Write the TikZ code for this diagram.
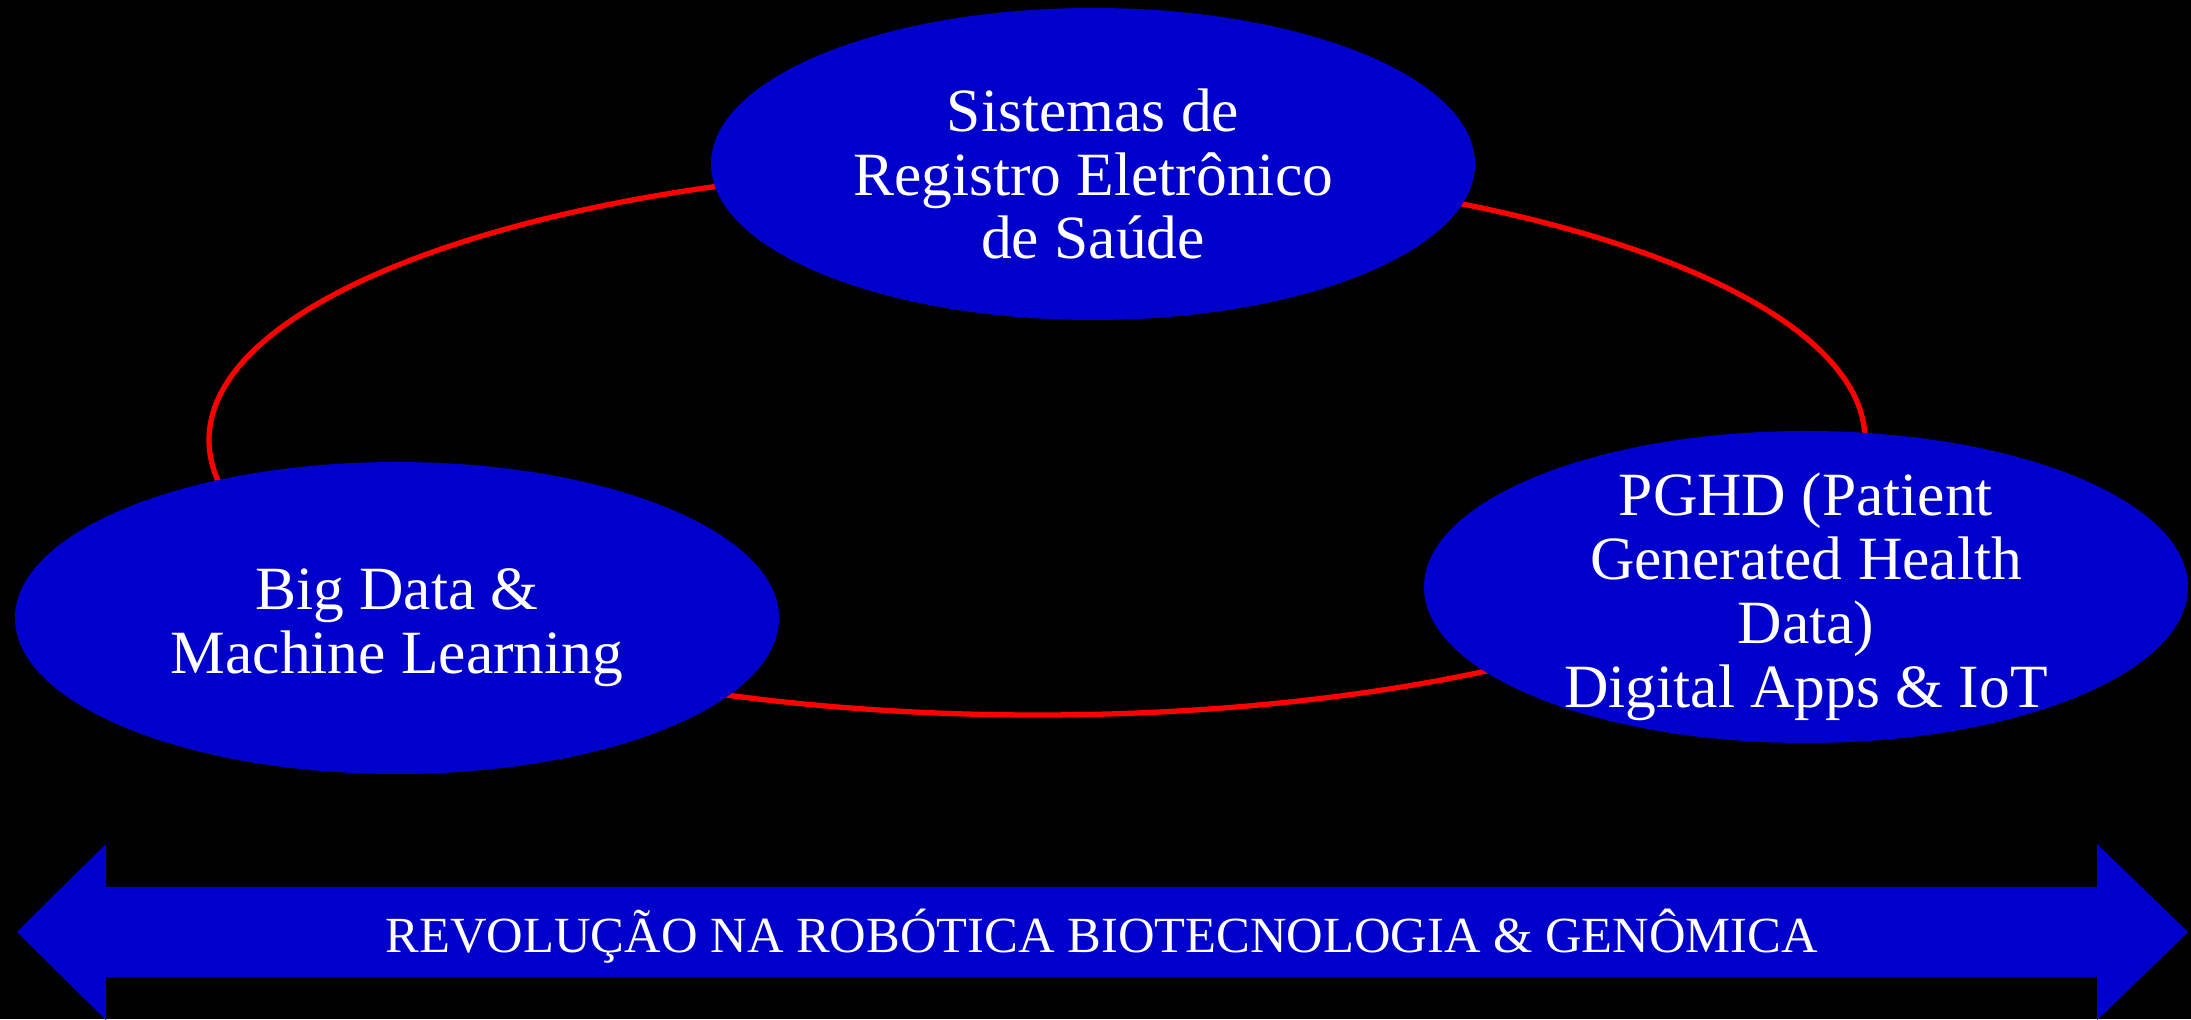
\documentclass[tikz,border=0pt]{standalone}
\usepackage{fontspec}
\setmainfont{Liberation Serif}
\usetikzlibrary{shapes}
\definecolor{blobblue}{RGB}{0,0,204}

\begin{document}
\begin{tikzpicture}
  [every node/.style={text=white,align=center},
   blob/.style={ellipse,fill=blobblue,minimum width=7.64cm,minimum height=3.12cm,inner sep=0pt},
   lbl/.style={font=\fontsize{17.5}{18.2}\selectfont,yshift=-0.1cm},
   ring/.style={ellipse,draw=red,line width=1.5pt,minimum width=16.56cm,minimum height=5.5cm,inner sep=0pt}]
  \fill[black] (0,0) rectangle (21.91,10.19);
  \useasboundingbox (0,0) rectangle (21.91,10.19);

  \node[ring] (loop) at (10.37,5.79) {};
  \node[blob] (ehr) at (10.93,8.55) {};
  \node[blob] (big) at (3.97,4.01) {};
  \node[blob] (pghd) at (18.06,4.32) {};

  \node[lbl] (ehrtxt) at (ehr) {Sistemas de\\Registro Eletrônico\\de Saúde};
  \node[lbl] (bigtxt) at (big) {Big Data \&\\Machine Learning};
  \node[lbl] (pghdtxt) at (pghd) {PGHD (Patient\\Generated Health\\Data)\\Digital Apps \& IoT};

  % double arrow at the bottom
  \fill[blobblue] (0.17,0.87) -- (1.06,1.75) -- (1.06,1.32) -- (20.97,1.32) -- (20.97,1.75)
    -- (21.88,0.87) -- (20.97,-0.01) -- (20.97,0.42) -- (1.06,0.42) -- (1.06,-0.01) -- cycle;
  \node[font=\fontsize{14.4}{17}\selectfont] (rev) at (11.02,0.83)
    {REVOLUÇÃO NA ROBÓTICA BIOTECNOLOGIA \& GENÔMICA};
\end{tikzpicture}
\end{document}
